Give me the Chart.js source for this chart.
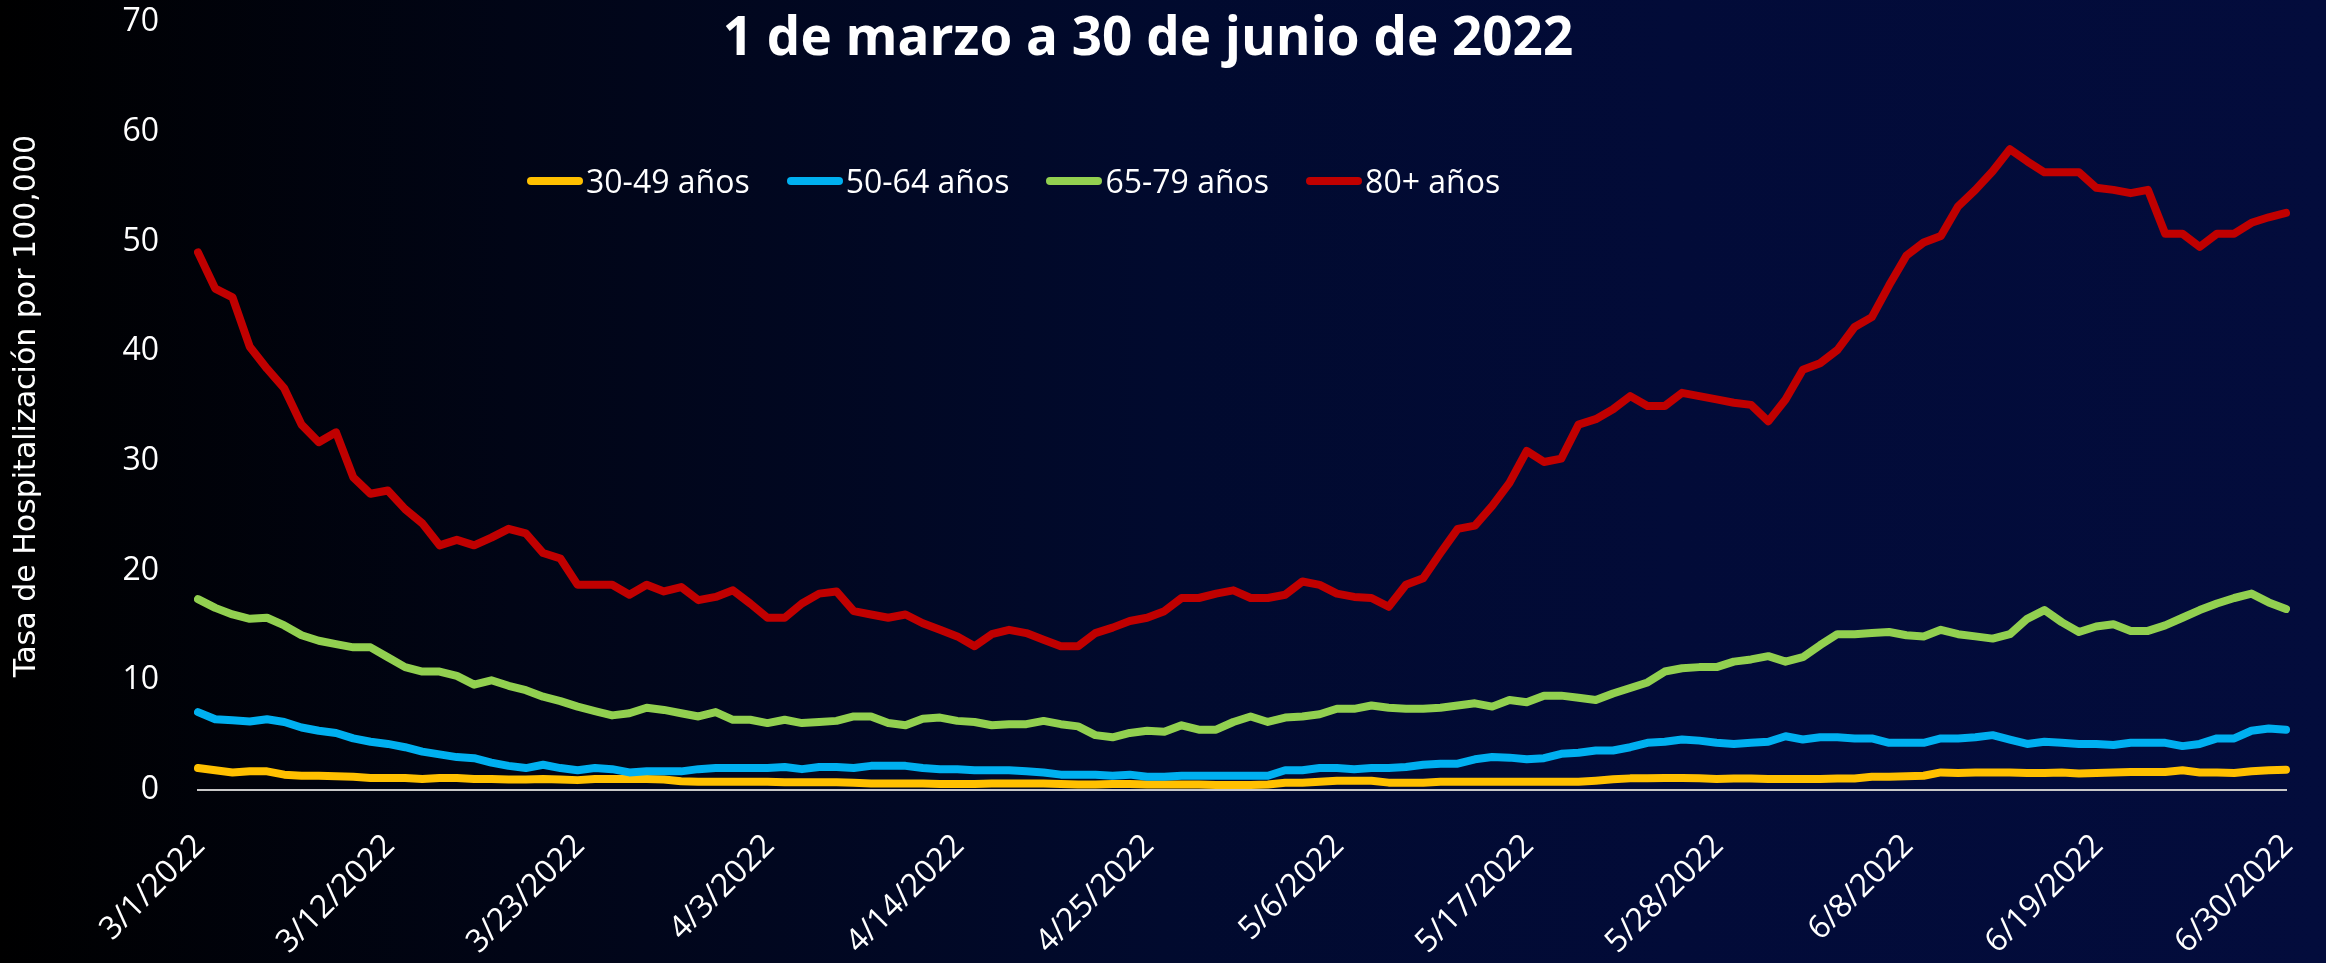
<!DOCTYPE html>
<html lang="es">
<head>
<meta charset="utf-8">
<title>Tasa de Hospitalización por 100,000</title>
<script src="https://cdn.jsdelivr.net/npm/chart.js@4.4.1/dist/chart.umd.min.js"></script>
<style>
    html, body {
        margin: 0;
        padding: 0;
        width: 2326px;
        height: 963px;
        overflow: hidden;
        background: linear-gradient(90deg, #000000 0%, #010516 22%, #010a2e 50%, #020b38 72%, #030c3c 100%);
        font-family: 'Open Sans', sans-serif;
    }
    #wrap { position: relative; width: 2326px; height: 963px; }
    #grafico { position: absolute; left: 0; top: 0; }
    #titulo {
        position: absolute;
        left: 0;
        top: 9px;
        width: 2296px;
        text-align: center;
        color: #fff;
        font: bold 53px 'Open Sans', sans-serif;
        line-height: 52px;
    }
    #leyenda {
        position: absolute;
        left: 527px;
        top: 165px;
        display: flex;
        align-items: center;
        color: #fff;
        font-size: 32px;
        line-height: 32px;
    }
    .item { display: flex; align-items: center; margin-right: 37px; }
    .linea { width: 56px; height: 8px; border-radius: 4px; margin-right: 3px; }
</style>
</head>
<body>
<div id="wrap">
    <canvas id="grafico" width="2326" height="963"></canvas>
    <div id="titulo">1 de marzo a 30 de junio de 2022</div>
    <div id="leyenda"></div>
</div>
<script>
// dias del 1 de marzo al 30 de junio
const meses = [3, 4, 5, 6];
const diasPorMes = [31, 30, 31, 30];
const fechas = [];
meses.forEach((m, k) => {
    for (let d = 1; d <= diasPorMes[k]; d++) fechas.push(`${m}/${d}/2022`);
});

// etiquetas visibles del eje x (cada 11 dias)
const etiquetasEje = ['3/1/2022', '3/12/2022', '3/23/2022', '4/3/2022', '4/14/2022', '4/25/2022',
    '5/6/2022', '5/17/2022', '5/28/2022', '6/8/2022', '6/19/2022', '6/30/2022'];

const grupos = ['30-49 años', '50-64 años', '65-79 años', '80+ años'];
const colores = ['#FFC000', '#00B0F0', '#92D050', '#C00000'];

const tasa3049 = [
    2.0, 1.8, 1.6, 1.7, 1.7, 1.4, 1.3, 1.3, 1.25, 1.2,
    1.1, 1.1, 1.1, 1.0, 1.1, 1.1, 1.0, 1.0, 0.95, 0.95,
    1.0, 0.95, 0.9, 1.0, 1.0, 1.0, 1.0, 0.95, 0.8, 0.75,
    0.75, 0.75, 0.75, 0.75, 0.7, 0.7, 0.7, 0.7, 0.65, 0.6,
    0.6, 0.6, 0.6, 0.55, 0.55, 0.55, 0.6, 0.6, 0.6, 0.6,
    0.55, 0.5, 0.5, 0.55, 0.55, 0.5, 0.5, 0.5, 0.5, 0.45,
    0.45, 0.45, 0.5, 0.67, 0.67, 0.76, 0.85, 0.85, 0.85, 0.67,
    0.67, 0.67, 0.76, 0.76, 0.76, 0.76, 0.76, 0.76, 0.76, 0.76,
    0.76, 0.85, 0.97, 1.06, 1.06, 1.1, 1.1, 1.06, 1.0, 1.05,
    1.05, 1.0, 1.0, 1.0, 1.0, 1.05, 1.05, 1.2, 1.2, 1.25,
    1.3, 1.6, 1.55, 1.6, 1.6, 1.6, 1.55, 1.55, 1.6, 1.5,
    1.55, 1.6, 1.65, 1.65, 1.65, 1.8, 1.6, 1.6, 1.55, 1.7,
    1.8, 1.85
];

const tasa5064 = [
    7.1, 6.45, 6.35, 6.25, 6.45, 6.2, 5.7, 5.4, 5.2, 4.7,
    4.4, 4.2, 3.9, 3.5, 3.25, 3.0, 2.9, 2.5, 2.2, 2.0,
    2.3, 2.0, 1.8, 2.0, 1.9, 1.6, 1.7, 1.7, 1.7, 1.9,
    2.0, 2.0, 2.0, 2.0, 2.1, 1.9, 2.1, 2.1, 2.0, 2.2,
    2.2, 2.2, 2.0, 1.9, 1.9, 1.8, 1.8, 1.8, 1.7, 1.6,
    1.4, 1.4, 1.4, 1.3, 1.4, 1.2, 1.2, 1.3, 1.3, 1.3,
    1.3, 1.3, 1.3, 1.8, 1.8, 2.0, 2.0, 1.9, 2.0, 2.0,
    2.1, 2.3, 2.4, 2.4, 2.8, 3.0, 2.95, 2.8, 2.9, 3.3,
    3.4, 3.6, 3.6, 3.9, 4.3, 4.4, 4.6, 4.5, 4.3, 4.2,
    4.3, 4.4, 4.9, 4.6, 4.8, 4.8, 4.7, 4.7, 4.3, 4.3,
    4.3, 4.7, 4.7, 4.8, 5.0, 4.6, 4.2, 4.4, 4.3, 4.2,
    4.2, 4.1, 4.3, 4.3, 4.3, 4.0, 4.2, 4.7, 4.7, 5.4,
    5.6, 5.5
];

const tasa6579 = [
    17.4, 16.6, 16.0, 15.6, 15.7, 15.0, 14.1, 13.6, 13.3, 13.0,
    13.0, 12.1, 11.2, 10.8, 10.8, 10.4, 9.6, 10.0, 9.5, 9.1,
    8.5, 8.1, 7.6, 7.2, 6.8, 7.0, 7.5, 7.3, 7.0, 6.7,
    7.1, 6.4, 6.4, 6.1, 6.4, 6.1, 6.2, 6.3, 6.7, 6.7,
    6.1, 5.9, 6.5, 6.6, 6.3, 6.2, 5.9, 6.0, 6.0, 6.3,
    6.0, 5.8, 5.0, 4.8, 5.2, 5.4, 5.3, 5.9, 5.5, 5.5,
    6.2, 6.7, 6.2, 6.6, 6.7, 6.9, 7.4, 7.4, 7.7, 7.5,
    7.4, 7.4, 7.5, 7.7, 7.9, 7.6, 8.2, 8.0, 8.6, 8.6,
    8.4, 8.2, 8.8, 9.3, 9.8, 10.8, 11.1, 11.2, 11.2, 11.7,
    11.9, 12.2, 11.7, 12.1, 13.2, 14.2, 14.2, 14.3, 14.4, 14.1,
    14.0, 14.6, 14.2, 14.0, 13.8, 14.2, 15.6, 16.4, 15.3, 14.4,
    14.9, 15.1, 14.5, 14.5, 15.0, 15.7, 16.4, 17.0, 17.5, 17.9,
    17.1, 16.5
];

const tasa80 = [
    49.0, 45.7, 44.9, 40.4, 38.4, 36.6, 33.3, 31.7, 32.6, 28.5,
    27.0, 27.3, 25.6, 24.3, 22.3, 22.8, 22.3, 23.0, 23.8, 23.4,
    21.6, 21.1, 18.7, 18.7, 18.7, 17.8, 18.7, 18.1, 18.5, 17.3,
    17.6, 18.2, 17.0, 15.7, 15.7, 17.0, 17.9, 18.1, 16.3, 16.0,
    15.7, 16.0, 15.2, 14.6, 14.0, 13.1, 14.2, 14.6, 14.3, 13.7,
    13.1, 13.1, 14.3, 14.8, 15.4, 15.7, 16.3, 17.5, 17.5, 17.9,
    18.2, 17.5, 17.5, 17.8, 19.0, 18.7, 17.9, 17.6, 17.5, 16.7,
    18.7, 19.3, 21.6, 23.8, 24.1, 25.9, 28.0, 30.9, 29.9, 30.2,
    33.3, 33.8, 34.7, 35.9, 35.0, 35.0, 36.2, 35.9, 35.6, 35.3,
    35.1, 33.6, 35.6, 38.3, 38.9, 40.1, 42.2, 43.1, 46.0, 48.7,
    49.9, 50.5, 53.2, 54.7, 56.4, 58.4, 57.3, 56.3, 56.3, 56.3,
    54.9, 54.7, 54.4, 54.7, 50.7, 50.7, 49.5, 50.7, 50.7, 51.7,
    52.2, 52.6
];

const series = [tasa3049, tasa5064, tasa6579, tasa80];

function armarLeyenda() {
    const cont = document.getElementById('leyenda');
    grupos.forEach((g, i) => {
        const item = document.createElement('div');
        item.className = 'item';
        const linea = document.createElement('span');
        linea.className = 'linea';
        linea.style.background = colores[i];
        const txt = document.createElement('span');
        txt.textContent = g;
        item.appendChild(linea);
        item.appendChild(txt);
        cont.appendChild(item);
    });
}

function dibujarGrafico() {
    const ctx = document.getElementById('grafico').getContext('2d');

    new Chart(ctx, {
        type: 'line',
        data: {
            labels: fechas,
            datasets: series.map((s, i) => ({
                label: grupos[i],
                data: s,
                borderColor: colores[i],
                backgroundColor: colores[i],
                borderWidth: 8,
                borderJoinStyle: 'round',
                borderCapStyle: 'round',
                pointRadius: 0,
                tension: 0,
                fill: false,
                order: 4 - i
            }))
        },
        options: {
            responsive: false,
            devicePixelRatio: 1,
            animation: false,
            layout: {
                padding: { top: 22, right: 40, left: 0, bottom: 0 }
            },
            plugins: {
                legend: { display: false },
                title: { display: false },
                tooltip: { enabled: false }
            },
            scales: {
                x: {
                    offset: false,
                    grid: { display: false, drawTicks: false },
                    border: { display: true, color: '#c8c8c8', width: 2 },
                    ticks: {
                        autoSkip: false,
                        maxRotation: 45,
                        minRotation: 45,
                        padding: 37,
                        labelOffset: 2,
                        color: '#ffffff',
                        font: { family: 'Open Sans', size: 32 },
                        callback: function (val, idx) {
                            const f = fechas[idx];
                            return etiquetasEje.includes(f) ? f : null;
                        }
                    },
                    // alto fijo del eje para que la base quede en y=790
                    afterFit: (scale) => {
                        scale.height = 173;
                        scale.paddingLeft = 0;
                        scale.paddingRight = 0;
                    }
                },
                y: {
                    min: 0,
                    max: 70,
                    grid: { display: false, drawTicks: false },
                    border: { display: false },
                    ticks: {
                        stepSize: 10,
                        padding: 39,
                        color: '#ffffff',
                        font: { family: 'Open Sans', size: 32 }
                    },
                    title: {
                        display: true,
                        text: 'Tasa de Hospitalización por 100,000',
                        color: '#ffffff',
                        font: { family: 'DejaVu Sans', size: 30 },
                        padding: { top: 9, bottom: 0 }
                    },
                    afterFit: (scale) => {
                        scale.width = 198;
                        scale.paddingTop = 0;
                        scale.paddingBottom = 0;
                    }
                }
            }
        }
    });
}

document.addEventListener('DOMContentLoaded', () => {
    armarLeyenda();
    dibujarGrafico();
});
</script>
</body>
</html>
